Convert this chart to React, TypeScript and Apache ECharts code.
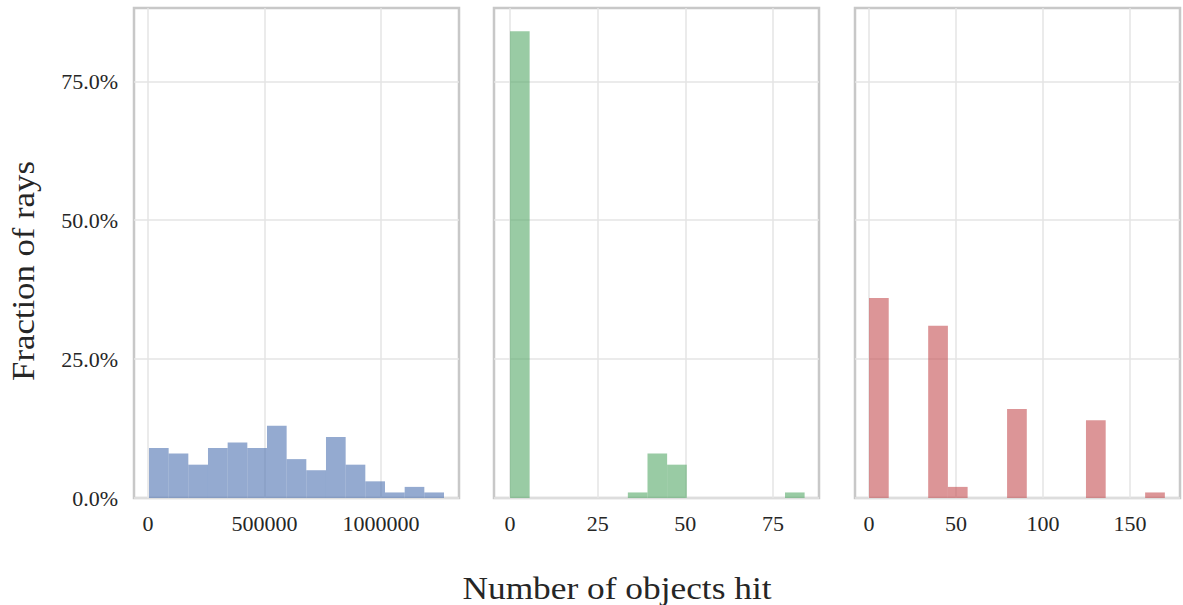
import React, { useEffect, useRef } from "react";
import * as echarts from "echarts";

// Histogram counts (percent of 100 rays) per panel, 15 equal-width bins each
const countsA = [9, 8, 6, 9, 10, 9, 13, 7, 5, 11, 6, 3, 1, 2, 1];
const countsB = [84, 0, 0, 0, 0, 0, 1, 8, 6, 0, 0, 0, 0, 0, 1];
const countsC = [36, 0, 0, 31, 2, 0, 0, 16, 0, 0, 0, 14, 0, 0, 1];

// Data range covered by the bins of each panel
const rangeA = [4300, 1270400];
const rangeB = [0, 84];
const rangeC = [0, 170];

// Visible x extent of each panel
const xExtentA = [-60000, 1334800];
const xExtentB = [-4.56, 88.1];
const xExtentC = [-8.05, 178.7];

const xTicksA = [0, 500000, 1000000];
const xTicksB = [0, 25, 50, 75];
const xTicksC = [0, 50, 100, 150];
const yTicks = [0, 0.25, 0.5, 0.75];
const yMax = 0.882;

const colors = ["rgba(76,114,176,0.6)", "rgba(85,168,104,0.6)", "rgba(196,78,82,0.6)"];

const FONT = "'Liberation Serif', 'DejaVu Serif', serif";

function binRows(counts: number[], range: number[]) {
  const w = (range[1] - range[0]) / counts.length;
  return counts.map((c, i) => [range[0] + i * w, range[0] + (i + 1) * w, c / 100]);
}

export default function App() {
  const ref = useRef<HTMLDivElement>(null);

  useEffect(() => {
    if (!ref.current) return;
    const chart = echarts.init(ref.current, undefined, { renderer: "svg" });

    const panels = [
      { left: 134, counts: countsA, range: rangeA, ext: xExtentA, ticks: xTicksA },
      { left: 494, counts: countsB, range: rangeB, ext: xExtentB, ticks: xTicksB },
      { left: 855, counts: countsC, range: rangeC, ext: xExtentC, ticks: xTicksC },
    ];

    const grid = panels.map((p) => ({
      left: p.left,
      top: 8,
      width: 325,
      height: 490,
      show: true,
      borderColor: "#c8c8c8",
      borderWidth: 2.5,
      backgroundColor: "transparent",
    }));

    const xAxis = panels.map((p, i) => ({
      type: "value",
      gridIndex: i,
      min: p.ext[0],
      max: p.ext[1],
      axisLine: { show: false },
      axisTick: { show: false, customValues: p.ticks },
      axisLabel: {
        customValues: p.ticks,
        margin: 14,
        fontFamily: FONT,
        fontSize: 22,
        color: "#262626",
        formatter: (v: number) => String(v),
      },
      splitLine: { show: true, lineStyle: { color: "#e4e4e4", width: 1.5 } },
    }));

    const yAxis = panels.map((_p, i) => ({
      type: "value",
      gridIndex: i,
      min: 0,
      max: yMax,
      axisLine: { show: false },
      axisTick: { show: false, customValues: yTicks },
      axisLabel: {
        show: i === 0,
        customValues: yTicks,
        margin: 16,
        fontFamily: FONT,
        fontSize: 22,
        color: "#262626",
        formatter: (v: number) => (v * 100).toFixed(1) + "%",
      },
      splitLine: { show: true, lineStyle: { color: "#e4e4e4", width: 1.5 } },
    }));

    const series = panels.map((p, i) => ({
      type: "custom",
      xAxisIndex: i,
      yAxisIndex: i,
      encode: { x: [0, 1], y: 2 },
      data: binRows(p.counts, p.range),
      renderItem: (_params: any, api: any) => {
        const x0 = api.value(0);
        const x1 = api.value(1);
        const h = api.value(2);
        if (!h) return null;
        const a = api.coord([x0, h]);
        const b = api.coord([x1, 0]);
        return {
          type: "rect",
          shape: { x: a[0], y: a[1], width: b[0] - a[0], height: b[1] - a[1] },
          style: { fill: colors[i] },
        };
      },
    }));

    chart.setOption({
      animation: false,
      backgroundColor: "#ffffff",
      grid,
      xAxis,
      yAxis,
      series,
      graphic: [
        {
          type: "text",
          x: 617,
          y: 573,
          scaleX: 1.14,
          style: {
            text: "Number of objects hit",
            fontFamily: FONT,
            fontSize: 31,
            fill: "#262626",
            align: "center",
            verticalAlign: "top",
          },
        },
        {
          type: "text",
          x: 8,
          y: 271,
          rotation: Math.PI / 2,
          scaleX: 1.12,
          style: {
            text: "Fraction of rays",
            fontFamily: FONT,
            fontSize: 31,
            fill: "#262626",
            align: "center",
            verticalAlign: "top",
          },
        },
      ],
    });

    return () => chart.dispose();
  }, []);

  return (
    <div
      ref={ref}
      style={{ position: "absolute", left: 0, top: 0, width: 1183, height: 605 }}
    />
  );
}
